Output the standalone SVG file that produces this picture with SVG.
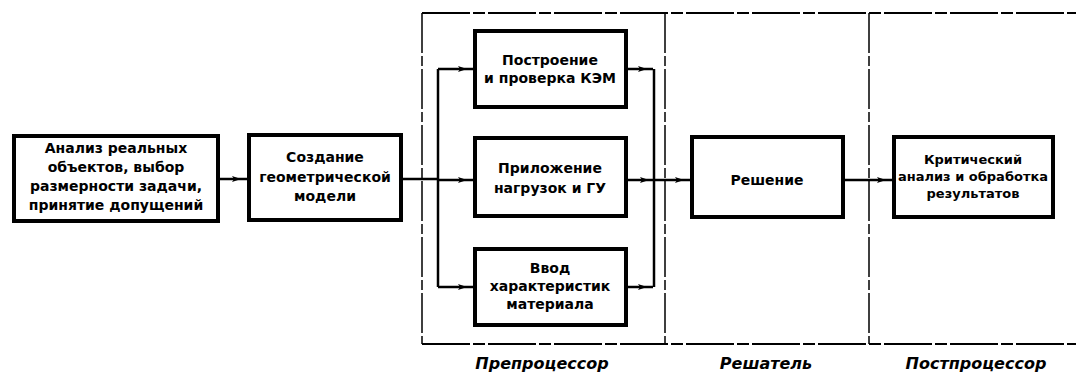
<svg xmlns="http://www.w3.org/2000/svg" width="1076" height="372" viewBox="0 0 1076 372">
<style>
.box{fill:#fff;stroke:#000;stroke-width:4}
.t{font-family:"DejaVu Sans","Liberation Sans",sans-serif;font-weight:bold;font-size:14px;text-anchor:middle;fill:#000}
.s{font-size:13px}
.lab{font-family:"DejaVu Sans","Liberation Sans",sans-serif;font-weight:bold;font-style:italic;font-size:16px;text-anchor:middle;fill:#000}
.c{fill:none;stroke:#000;stroke-width:2.5}
.frame{fill:none;stroke:#000;stroke-width:2;stroke-dasharray:48 3 12 3}
.div{fill:none;stroke:#000;stroke-width:1.5;stroke-dasharray:40 3 10 3}
</style>
<defs>
<marker id="ah" markerUnits="userSpaceOnUse" markerWidth="16" markerHeight="8" refX="15" refY="4" orient="auto">
<path d="M0,1 L9,4 L0,7 L2,4 z" fill="#000"/>
</marker>
</defs>
<g id="frame">
<path class="frame" d="M422,13 H1076"/>
<path class="frame" d="M422,344 H1076"/>
<path class="div" d="M422,13 V344"/>
<path class="div" d="M665,13 V344"/>
<path class="div" d="M869,13 V344"/>
</g>
<g id="connectors">
<path class="c" d="M220,179 H247" marker-end="url(#ah)"/>
<path class="c" d="M403,179 H438"/>
<path class="c" d="M438,69 V287"/>
<path class="c" d="M438,69 H473" marker-end="url(#ah)"/>
<path class="c" d="M438,180 H473" marker-end="url(#ah)"/>
<path class="c" d="M438,287 H473" marker-end="url(#ah)"/>
<path class="c" d="M628,69 H653" marker-end="url(#ah)"/>
<path class="c" d="M628,180 H655" marker-end="url(#ah)"/>
<path class="c" d="M628,287 H653" marker-end="url(#ah)"/>
<path class="c" d="M654,69 V287"/>
<path class="c" d="M654,180 H690" marker-end="url(#ah)"/>
<path class="c" d="M845,180 H892" marker-end="url(#ah)"/>
</g>
<g id="n1">
<rect class="box" x="14" y="136" width="204" height="85"/>
<text class="t" x="116" y="153">Анализ реальных</text>
<text class="t" x="116" y="172">объектов, выбор</text>
<text class="t" x="116" y="191">размерности задачи,</text>
<text class="t" x="116" y="210">принятие допущений</text>
</g>
<g id="n2">
<rect class="box" x="249" y="135" width="152" height="85"/>
<text class="t" x="325" y="162">Создание</text>
<text class="t" x="325" y="182">геометрической</text>
<text class="t" x="325" y="201">модели</text>
</g>
<g id="n3">
<rect class="box" x="475" y="31" width="151" height="76"/>
<text class="t" x="550" y="65">Построение</text>
<text class="t" x="550" y="83">и проверка КЭМ</text>
</g>
<g id="n4">
<rect class="box" x="475" y="138" width="151" height="78"/>
<text class="t" x="550" y="173">Приложение</text>
<text class="t" x="550" y="193">нагрузок и ГУ</text>
</g>
<g id="n5">
<rect class="box" x="475" y="249" width="151" height="76"/>
<text class="t" x="550" y="273">Ввод</text>
<text class="t" x="550" y="291">характеристик</text>
<text class="t" x="550" y="309">материала</text>
</g>
<g id="n6">
<rect class="box" x="692" y="137" width="151" height="80"/>
<text class="t" x="767" y="185">Решение</text>
</g>
<g id="n7">
<rect class="box" x="894" y="137" width="159" height="80"/>
<text class="t s" x="973" y="164">Критический</text>
<text class="t s" x="973" y="181">анализ и обработка</text>
<text class="t s" x="973" y="198">результатов</text>
</g>
<g id="labels">
<text class="lab" x="542" y="369">Препроцессор</text>
<text class="lab" x="766" y="369">Решатель</text>
<text class="lab" x="976" y="369">Постпроцессор</text>
</g>
</svg>
